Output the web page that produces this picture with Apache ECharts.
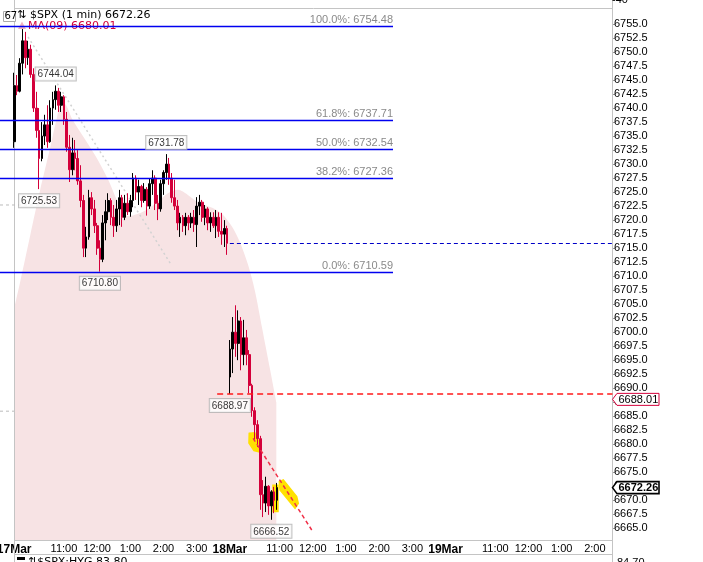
<!DOCTYPE html>
<html><head><meta charset="utf-8">
<script src="https://cdn.jsdelivr.net/npm/echarts@6/dist/echarts.min.js"></script>
<style>html,body{margin:0;padding:0;background:#fff;overflow:hidden}#c{width:703px;height:562px;}</style>
</head><body><div id="c"></div>
<script>
// ---- axis schema ----
const dayLabels = ['17Mar', '18Mar', '19Mar'];
const sessionMinutes = 390;
const hourMarks = [90, 150, 210, 270, 330];
const hourLabels = ['11:00', '12:00', '1:00', '2:00', '3:00'];
const yTicks = { min: 6662.5, max: 6757.5, step: 2.5 };
const candleStep = 5; // minutes per drawn bar

// ---- price bars [open, close, low, high] ----
const ohlc = [
 [6734,6744,6732.9,6746.3],[6744,6743,6742.3,6745.9],[6743,6748,6742.8,6748.9],[6748,6752,6746,6754.48],
 [6752,6749,6747.1,6753.6],[6749,6750.5,6747.7,6752],[6750.5,6746,6745.4,6751.3],[6746,6740,6739.3,6747.1],
 [6740,6736,6734.7,6742.9],[6736,6731,6725.53,6740],[6731,6735,6730.5,6737.5],[6735,6737,6733.4,6738.8],
 [6737,6734,6732.9,6740.5],[6734,6740,6733.8,6741.4],[6740,6741.5,6737,6742.9],[6741.5,6743,6739.7,6744.04],
 [6743,6740.5,6739.3,6743.6],[6740.5,6742,6739.3,6742.9],[6742,6738,6737,6742.3],[6738,6733,6732.2,6739.3],
 [6733,6729,6726.8,6735.2],[6729,6732,6728,6734.7],[6732,6731,6728.9,6734.3],[6731,6727,6726.3,6732.5],
 [6727,6723.5,6722.3,6729.8],[6723.5,6715,6713.4,6724.5],[6715,6717,6713.4,6718.8],[6717,6724,6716.5,6725.4],
 [6724,6722,6720.9,6725],[6722,6719,6717.7,6723.6],[6719,6715,6713.8,6719.5],[6715,6713,6710.8,6716.4],
 [6713,6719.5,6712.5,6720.9],[6719.5,6721.5,6716.4,6723.6],[6721.5,6723.5,6720,6724.8],[6723.5,6720.5,6719.1,6723.9],
 [6720.5,6719,6717,6722.7],[6719,6722,6717.9,6723.6],[6722,6724,6719.1,6725.4],[6724,6720.5,6718.8,6724.5],
 [6720.5,6723,6720,6724.5],[6723,6721.5,6720.9,6724.8],[6721.5,6723.5,6720.6,6724.5],[6723.5,6727.5,6722.3,6728.4],
 [6727.5,6725,6723.6,6728],[6725,6726,6722.7,6727.2],[6726,6723.5,6722.3,6726.3],[6723.5,6725.5,6723.1,6726.6],
 [6725.5,6722.5,6720.8,6725.9],[6722.5,6726.5,6722,6727.5],[6726.5,6727.5,6724.5,6728.9],[6727.5,6723,6721.8,6728],
 [6723,6722,6720,6724.5],[6722,6726.5,6721.5,6727.2],[6726.5,6728.5,6724.5,6728.9],[6728.5,6730,6727.2,6731.78],
 [6730,6727.5,6726.3,6731.1],[6727.5,6724,6723.1,6728.4],[6724,6722.5,6721.8,6727.2],[6722.5,6719.5,6718.2,6723.6],
 [6719.5,6720.5,6717,6721.3],[6720.5,6719,6717.9,6720.9],[6719,6720.5,6717.3,6721.3],[6720.5,6719.5,6718.2,6720.9],
 [6719.5,6720.5,6718.6,6721.3],[6720.5,6719.2,6717.9,6721.8],[6719.2,6722.5,6715.2,6724.1],[6722.5,6723.2,6720.9,6724.5],
 [6723.2,6720.5,6719.7,6723.6],[6720.5,6722,6719.1,6722.7],[6722,6719.5,6718.2,6722.3],[6719.5,6720.5,6717.9,6721.4],
 [6720.5,6719,6718.6,6721.4],[6719,6720.5,6716.8,6721.8],[6720.5,6718,6717,6721.4],[6718,6717.5,6715.6,6721.3],
 [6717.5,6718.5,6715.2,6720],[6718.5,6715.86,6713.8,6719],
 [6692,6697,6688.97,6698.6],[6697,6700,6692.7,6702.7],[6700,6698,6695.6,6704.8],[6698,6702,6695,6703.9],
 [6702,6696,6693.2,6702.7],[6696,6699,6694.1,6702.2],[6699,6696,6694.1,6700.4],[6696,6690.5,6689.1,6696.8],
 [6690.5,6686,6684.9,6690.8],[6686,6683.5,6680.8,6686.6],[6683.5,6681,6679.5,6684.3],[6681,6671,6668.3,6681.5],
 [6671,6669.5,6667,6673.6],[6669.5,6672.5,6667.9,6674.2],[6672.5,6669,6667.4,6672.7],[6669,6671.5,6666.52,6671.8],
 [6671.5,6670,6667.7,6672.4],[6670,6672.26,6668.3,6673.1]
];

// ---- MA(09) shaded study ----
const maMinutes = [0,10,29,47,65,77,86,94,104,123,146,170,188,206,231,255,278,296,314,332,358,376,394,408,423,435,448,463,474];
const maValues = [6704.3,6708.6,6717.3,6725.4,6732.9,6738.2,6741.1,6740.5,6738.2,6735.2,6731.6,6727.2,6723.1,6720.7,6721.4,6722.9,6724.8,6725.4,6724.5,6723.2,6722.2,6721.1,6718.8,6716.1,6712.0,6707.5,6700.9,6693.2,6687.5];

// ---- Fibonacci retracement ----
const fibPct = ['100.0%', '61.8%', '50.0%', '38.2%', '0.0%'];
const fibValues = [6754.48, 6737.71, 6732.54, 6727.36, 6710.59];
const fibEndMinute = 685;

// ---- pivots (high/low callouts) ----
const pivotMinutes = [75, 45, 275, 155, 390, 465];
const pivotValues = [6744.04, 6725.53, 6731.78, 6710.80, 6688.97, 6666.52];
const pivotSide = ['top', 'bottom', 'top', 'bottom', 'bottom', 'bottom'];

// ---- levels & drawings ----
const prevClose = 6715.86, prevCloseFrom = 390;
const openLow = 6688.97, openLowFrom = 367;
const alertPrice = 6688.01, lastPrice = 6672.26, maLast = 6680.01;
const trendMinutes = [432, 538], trendValues = [6681.06, 6664.7];
const guideMinutes = [25, 282], guideValues = [6752.68, 6712.34];
const refLevels = [6722.7, 6685.9], refLevelEndX = [45, 14];
const highlights = [
  [[425,6681.95],[435,6682.06],[446,6679.69],[444.5,6678.62],[433.5,6678.88],[424.5,6680.22]],
  [[479.4,6673.32],[486.6,6673.62],[510.8,6670.64],[513.7,6669.46],[507.8,6668.57],[480.7,6671.83]],
  [[468,6672.7],[477,6672.7],[477,6668.0],[468,6668.0]]
];

const FONT = 'Liberation Sans';
const UP = '#000000', DOWN = '#d4003a';
const chart = echarts.init(document.getElementById('c'), null, {renderer: 'canvas'});

const candleData = ohlc.map((d, i) => [i * candleStep, d[0], d[1], d[2], d[3]]);
const maData = maMinutes.map((m, i) => [m, maValues[i]]);

chart.setOption({
  animation: false,
  backgroundColor: '#fff',
  grid: {left: 14.2, right: 91, top: 10, bottom: 19.7, containLabel: false, outerBoundsMode: 'none'},
  xAxis: {
    type: 'value', min: 0, max: 1081, interval: 30,
    axisLine: {show: false, onZero: false}, axisTick: {show: false}, splitLine: {show: false},
    axisLabel: {
      margin: 1, fontFamily: FONT, fontSize: 11, color: '#000', showMinLabel: true, showMaxLabel: false,
      alignMinLabel: 'center',
      formatter: v => {
        const d = Math.floor(v / sessionMinutes), r = v - d * sessionMinutes;
        if (r === 0) return '{d|' + (dayLabels[d] || '') + '}';
        const k = hourMarks.indexOf(r);
        return k >= 0 ? hourLabels[k] : '';
      },
      rich: {d: {fontFamily: FONT, fontSize: 12, fontWeight: 'bold', color: '#000'}}
    }
  },
  yAxis: {
    type: 'value', position: 'right', min: yTicks.min, max: yTicks.max, interval: yTicks.step,
    axisLine: {show: false, onZero: false}, splitLine: {show: false},
    axisTick: {show: true, length: 3, lineStyle: {color: '#999'}},
    axisLabel: {margin: 2, fontFamily: FONT, fontSize: 11, color: '#000', showMinLabel: false, showMaxLabel: false,
      formatter: v => v.toFixed(1)}
  },
  series: [
    {type: 'line', z: 1, data: maData, showSymbol: false, smooth: 0.3, silent: true,
     lineStyle: {width: 0, opacity: 0}, areaStyle: {color: '#f7e3e4', opacity: 1, origin: 6662.9}},
    {type: 'custom', z: 2, silent: true, data: highlights.map(h => h[0]),
     renderItem: (params, api) => ({
       type: 'polygon',
       shape: {points: highlights[params.dataIndex].map(p => api.coord(p))},
       style: {fill: '#ffe100', stroke: '#ffe100', lineWidth: 1.5}
     })},
    {type: 'line', z: 2, data: guideMinutes.map((m, i) => [m, guideValues[i]]), showSymbol: false, silent: true,
     lineStyle: {color: '#d2d2d2', width: 1.5, type: [2, 3]}},
    {type: 'candlestick', z: 3, data: candleData, encode: {x: 0, y: [1, 2, 3, 4]}, barWidth: 2.2,
     itemStyle: {color: UP, color0: DOWN, borderColor: UP, borderColor0: DOWN, borderWidth: 1}},
    {type: 'line', z: 4, data: trendMinutes.map((m, i) => [m, trendValues[i]]), showSymbol: false, silent: true,
     lineStyle: {color: '#f03048', width: 1.5, type: [4, 3]}},
    {type: 'scatter', z: 9, symbolSize: 0, silent: true,
     data: pivotMinutes.map((m, i) => ({value: [m, pivotValues[i]], label: {position: pivotSide[i]}})),
     label: {show: true, distance: 5, formatter: p => p.value[1].toFixed(2), fontFamily: FONT, fontSize: 10,
       color: '#000', backgroundColor: '#fff', borderColor: '#b0b0b0', borderWidth: 1, padding: [2, 2, 1, 2]}}
  ]
});

const X = m => chart.convertToPixel({xAxisIndex: 0}, m);
const Y = v => chart.convertToPixel({yAxisIndex: 0}, v);
const RIGHT = 612.5, FRAME = '#c4c4c4';
const g = [];
const line = (x1, y1, x2, y2, stroke, lw, dash, z) => g.push({type: 'line', z: z || 5, silent: true,
  shape: {x1, y1, x2, y2}, style: {stroke, lineWidth: lw, lineDash: dash || null}});
const text = (t, x, y, font, fill, align, va, z) => g.push({type: 'text', z: z || 6, silent: true,
  style: {text: t, x, y, font, fill, align: align || 'left', verticalAlign: va || 'middle'}});

// frame
line(14.5, 0, 14.5, 562, FRAME, 1, null, 1);
line(14.5, 8.5, RIGHT, 8.5, FRAME, 1, null, 1);
line(14.5, 540.5, RIGHT, 540.5, FRAME, 1, null, 1);
line(RIGHT, 0, RIGHT, 562, FRAME, 1, null, 1);
line(14.5, 554.5, RIGHT, 554.5, FRAME, 1, null, 1);
text('-40', 612, 0, '11px "Liberation Sans"', '#000');
// bottom panel header (cut off)
g.push({type: 'rect', z: 6, shape: {x: 17, y: 557, width: 8, height: 3}, style: {fill: '#000'}});
text('⇅$SPX:HYG 83.80', 28, 562, '11px "DejaVu Sans"', '#000', 'left', 'middle');
text('84.70', 617, 563, '11px "Liberation Sans"', '#000', 'left', 'middle');

// title / legend
g.push({type: 'rect', z: 6, shape: {x: 3.5, y: 11.5, width: 12, height: 10}, style: {fill: '#fff', stroke: '#aaa', lineWidth: 1}});
text('67', 4.5, 16.8, '10px "DejaVu Sans"', '#000');
text('⇅', 17, 15.5, '11px "DejaVu Sans"', '#000');
text('$SPX (1 min) ' + lastPrice.toFixed(2), 30, 15.5, '11px "DejaVu Sans"', '#000');
g.push({type: 'polygon', z: 6, shape: {points: [[18, 29], [22, 21.5], [26, 29]]}, style: {fill: '#f2b3bf'}});
text('MA(09) ' + maLast.toFixed(2), 28, 26, '11px "DejaVu Sans"', '#d4003a');

// gray reference ticks
refLevels.forEach((v, i) => line(0, Y(v), refLevelEndX[i], Y(v), '#bbbbbb', 1, [3, 3], 3));

// fib lines & labels
const fx = X(fibEndMinute);
fibValues.forEach((v, i) => {
  const y = Math.round(Y(v)) - 0.5;
  text(fibPct[i] + ': ' + v.toFixed(2), fx, y - 1.5, '11px "Liberation Sans"', '#8a8a8a', 'right', 'bottom');
  line(0, y, fx, y, '#0000f0', 1.3, null, 7);
});

// previous close & open low levels
line(X(prevCloseFrom), Math.round(Y(prevClose)) + 0.5, RIGHT, Math.round(Y(prevClose)) + 0.5, '#0000c8', 1, [4, 3], 4);
line(X(openLowFrom), Y(openLow), RIGHT, Y(openLow), '#ff1a1a', 1.5, [6, 4], 4);

// price flags on axis
const flag = (v, stroke, lw, font) => {
  const y = Y(v);
  g.push({type: 'polygon', z: 8, shape: {points: [[RIGHT, y], [617, y - 6], [659, y - 6], [659, y + 6], [617, y + 6]]},
    style: {fill: '#fff', stroke, lineWidth: lw}});
  text(v.toFixed(2), 618.5, y + 0.5, font, '#000', 'left', 'middle', 9);
};
flag(alertPrice, '#d4003a', 1, '11px "Liberation Sans"');
flag(lastPrice, '#000', 1.6, 'bold 11px "Liberation Sans"');

chart.setOption({graphic: {elements: g}});
</script></body></html>
